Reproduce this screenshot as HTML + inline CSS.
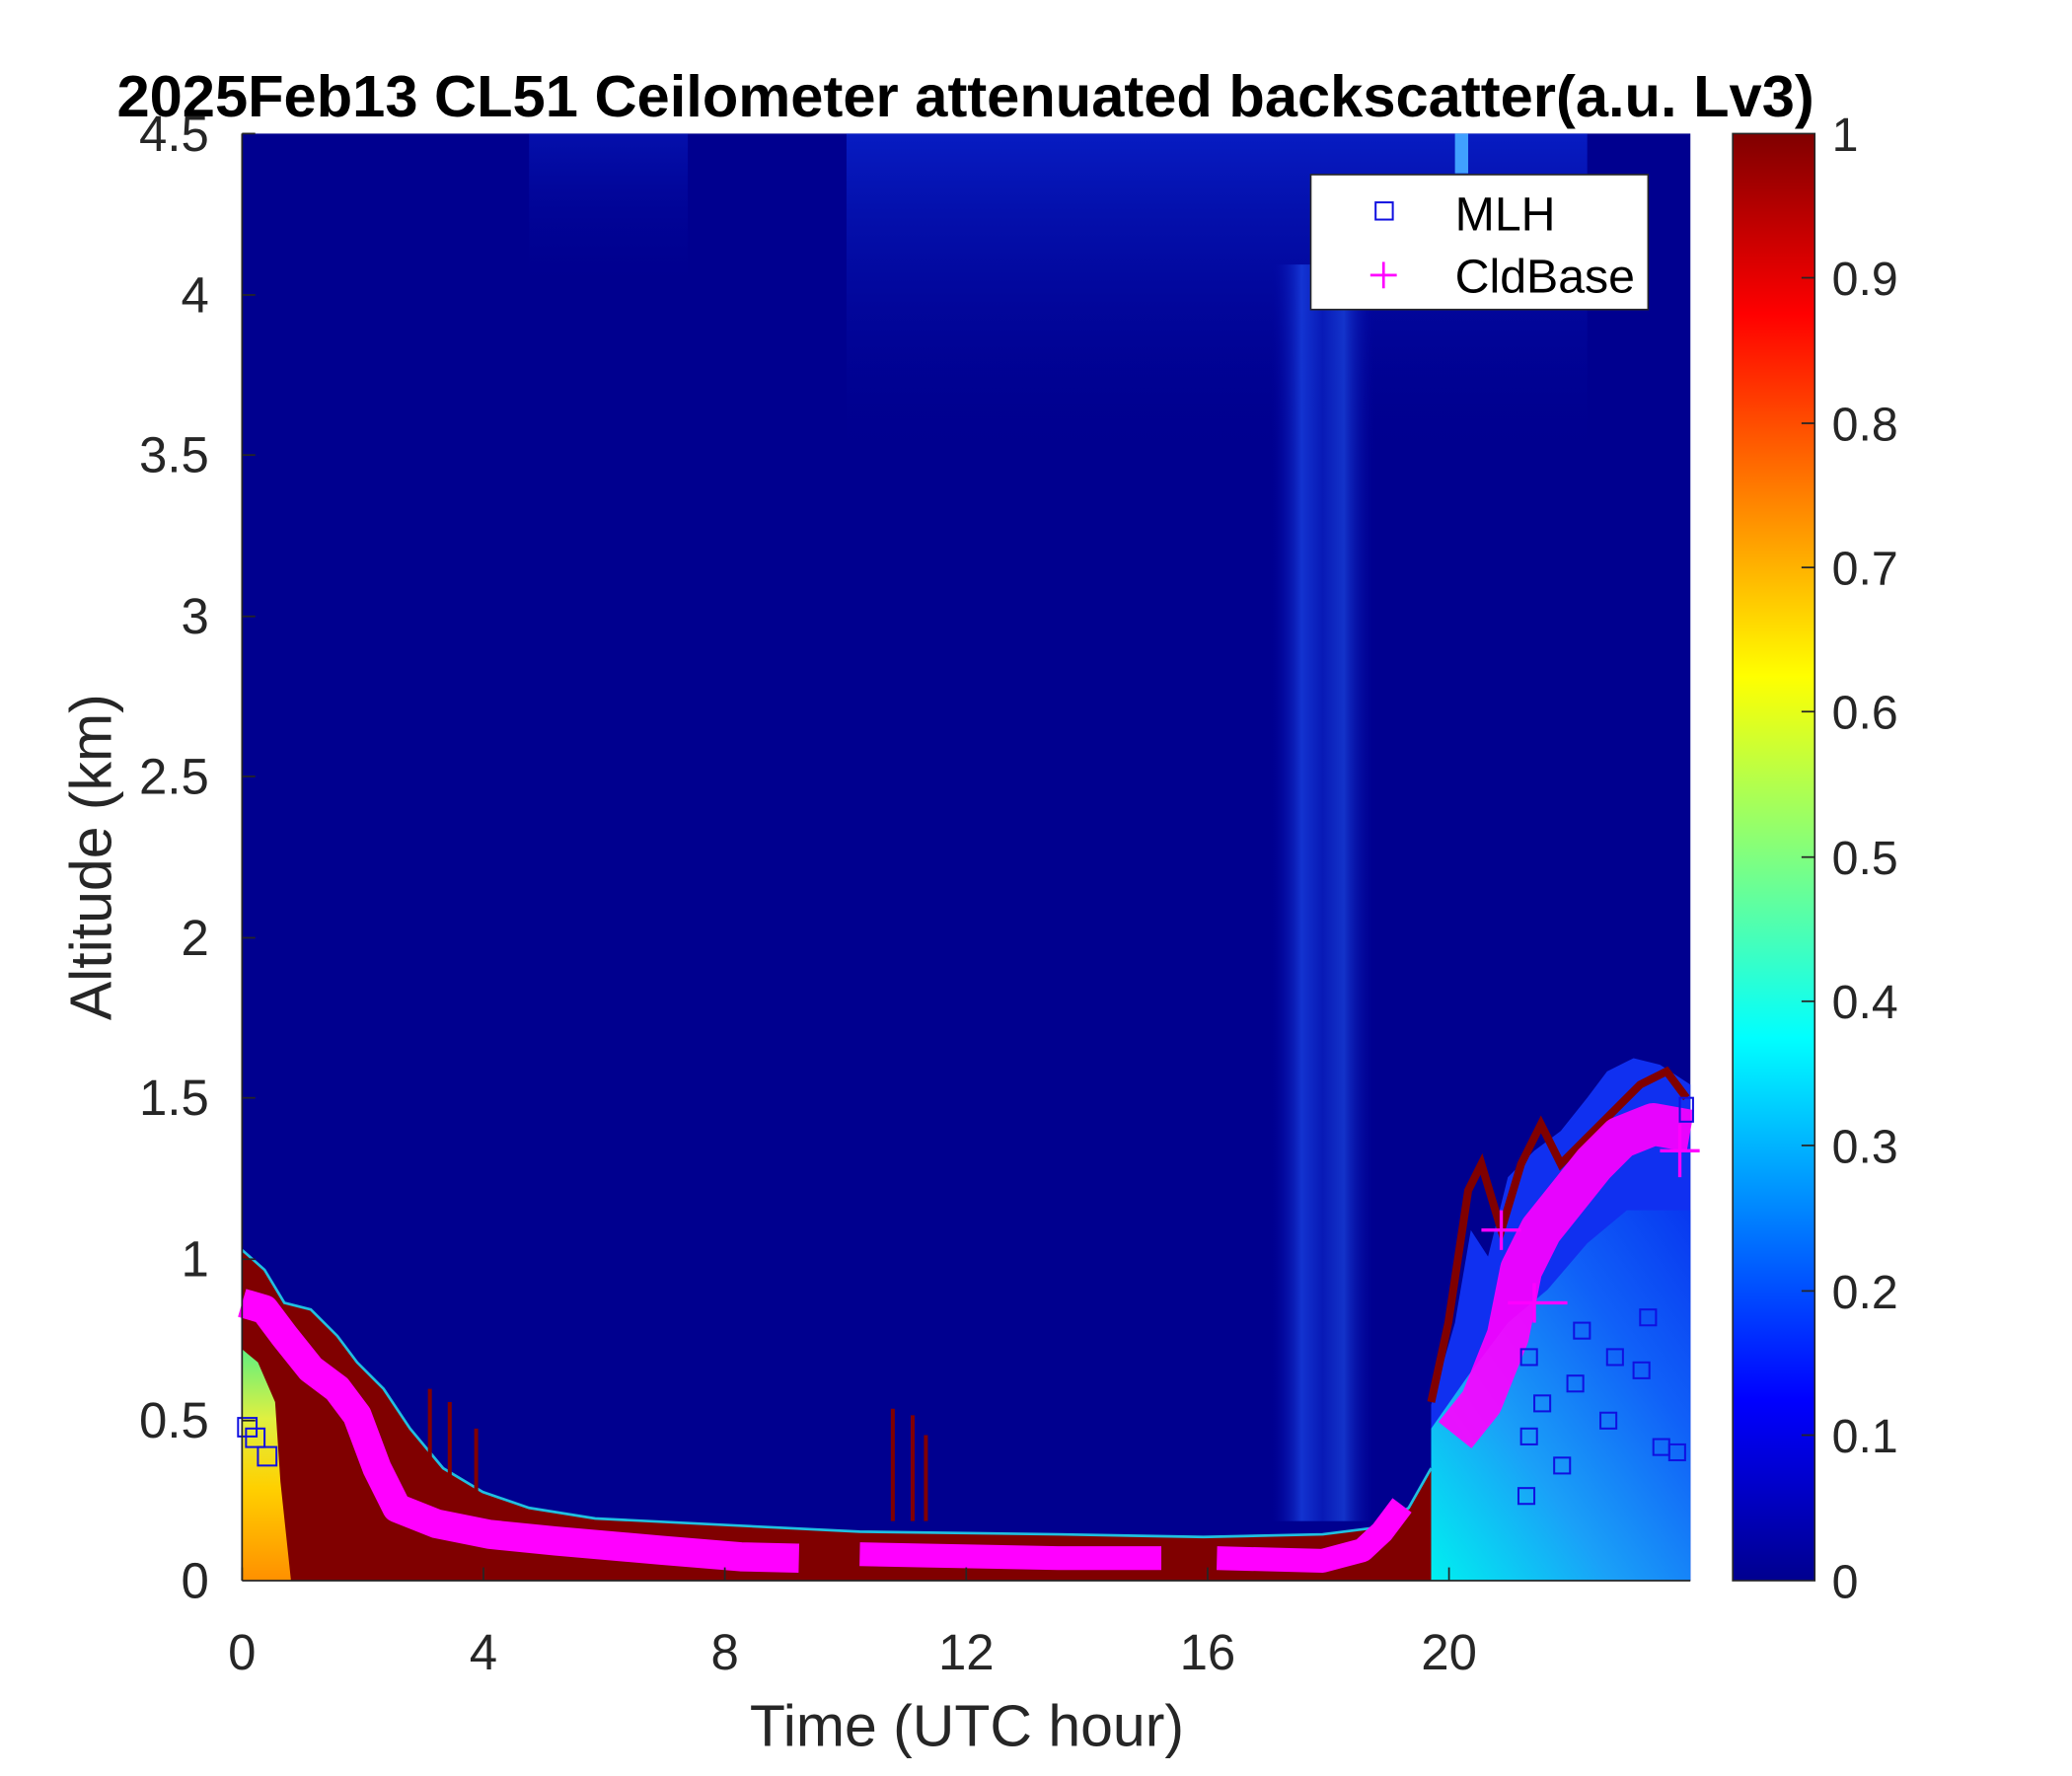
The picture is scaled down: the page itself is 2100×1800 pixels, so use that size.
<!DOCTYPE html>
<html><head><style>html,body{margin:0;padding:0;background:#fff}svg{display:block}</style></head>
<body>
<svg width="2100" height="1800" viewBox="0 0 1566.5 1342.7" xmlns="http://www.w3.org/2000/svg" font-family="Liberation Sans, sans-serif">
<defs>
<linearGradient id="jet" x1="0" y1="1" x2="0" y2="0">
<stop offset="0" stop-color="#00008f"/><stop offset="0.125" stop-color="#0000ff"/>
<stop offset="0.375" stop-color="#00ffff"/><stop offset="0.625" stop-color="#ffff00"/>
<stop offset="0.875" stop-color="#ff0000"/><stop offset="1" stop-color="#800000"/>
</linearGradient>
<linearGradient id="rgt" x1="0" y1="1" x2="1" y2="0">
<stop offset="0" stop-color="#00f0f0"/><stop offset="0.35" stop-color="#1aa0f8"/><stop offset="0.7" stop-color="#1060f8"/><stop offset="1" stop-color="#0838f0"/>
</linearGradient>
<linearGradient id="org" x1="0" y1="0" x2="0" y2="1">
<stop offset="0" stop-color="#60f080"/><stop offset="0.3" stop-color="#e0f040"/><stop offset="0.6" stop-color="#ffd000"/><stop offset="1" stop-color="#ff9000"/>
</linearGradient>
<linearGradient id="plume" x1="0" y1="0" x2="1" y2="0">
<stop offset="0" stop-color="#0000a0" stop-opacity="0"/><stop offset="0.3" stop-color="#1840e0"/><stop offset="0.5" stop-color="#0a20c0"/><stop offset="0.7" stop-color="#1840d8"/><stop offset="1" stop-color="#0000a0" stop-opacity="0"/>
</linearGradient>
<linearGradient id="topfade" x1="0" y1="0" x2="0" y2="1">
<stop offset="0" stop-color="#0a28d8"/><stop offset="1" stop-color="#00008f" stop-opacity="0"/>
</linearGradient>
</defs>
<text x="730" y="88" font-size="44.5" font-weight="bold" text-anchor="middle">2025Feb13 CL51 Ceilometer attenuated backscatter(a.u. Lv3)</text>
<rect x="183" y="101" width="1095" height="1094" fill="#00008f"/>
<rect x="640" y="101" width="560" height="250" fill="url(#topfade)" opacity="0.7"/>
<rect x="400" y="101" width="120" height="120" fill="url(#topfade)" opacity="0.4"/>
<rect x="960" y="200" width="80" height="950" fill="url(#plume)" opacity="0.8"/>
<rect x="1100" y="101" width="10" height="30" fill="#40a0ff"/>
<polygon points="1082,1195 1082,1062 1100,1000 1112,930 1125,950 1140,890 1160,870 1180,855 1200,830 1215,810 1235,800 1255,805 1278,820 1278,1195" fill="#1030f0"/>
<polygon points="1082,1195 1082,1080 1110,1040 1140,1000 1170,975 1200,940 1230,915 1278,915 1278,1195" fill="url(#rgt)"/>
<polyline points="1082,1060 1095,1000 1110,900 1120,880 1135,930 1150,880 1165,850 1180,880 1200,860 1220,840 1240,820 1260,810 1275,830" fill="none" stroke="#800000" stroke-width="6"/>
<polygon points="183,1195 183,945 200,960 215,985 235,990 255,1010 270,1030 290,1050 310,1080 335,1110 365,1128 400,1140 450,1148 550,1153 650,1158 800,1160 910,1162 1000,1160 1040,1155 1065,1140 1082,1110 1082,1195" fill="#800000"/>
<polyline points="183,945 200,960 215,985 235,990 255,1010 270,1030 290,1050 310,1080 335,1110 365,1128 400,1140 450,1148 550,1153 650,1158 800,1160 910,1162 1000,1160 1040,1155 1065,1140 1082,1110" fill="none" stroke="#20c0e0" stroke-width="2"/>
<g stroke="#800000" stroke-width="3">
<line x1="675" y1="1150" x2="675" y2="1065"/><line x1="690" y1="1150" x2="690" y2="1070"/><line x1="700" y1="1150" x2="700" y2="1085"/>
<line x1="325" y1="1120" x2="325" y2="1050"/><line x1="340" y1="1125" x2="340" y2="1060"/><line x1="360" y1="1130" x2="360" y2="1080"/>
</g>
<polygon points="183,1195 183,1020 195,1030 208,1060 212,1120 220,1195" fill="url(#org)"/>
<g fill="none" stroke="#ff00ff" stroke-linejoin="round" stroke-linecap="butt">
<polyline points="183,985 200,990 215,1010 235,1035 255,1050 270,1070 285,1110 300,1140 330,1152 370,1160 420,1165 500,1172 560,1177 604,1178" stroke-width="22"/>
<polyline points="650,1175 700,1176 800,1178 878,1178" stroke-width="18"/>
<polyline points="920,1178 1000,1180 1030,1172 1045,1158 1060,1138" stroke-width="18"/>
<polyline points="1100,1085 1120,1060 1140,1010 1150,960 1165,930 1185,905 1205,880 1225,860 1250,850 1278,855" stroke-width="32" opacity="0.9"/>
</g>
<g stroke="#ff00ff" stroke-width="2.5">
<line x1="1120" y1="930" x2="1150" y2="930"/><line x1="1135" y1="915" x2="1135" y2="945"/>
<line x1="1140" y1="985" x2="1185" y2="985"/><line x1="1160" y1="970" x2="1160" y2="1000"/>
<line x1="1255" y1="870" x2="1285" y2="870"/><line x1="1270" y1="850" x2="1270" y2="890"/>
</g>
<g fill="none" stroke="#1010e0" stroke-width="1.5">
<rect x="180" y="1072" width="14" height="14"/><rect x="186" y="1080" width="14" height="14"/><rect x="195" y="1094" width="14" height="14"/>
<rect x="1150" y="1080" width="12" height="12"/><rect x="1148" y="1125" width="12" height="12"/><rect x="1175" y="1102" width="12" height="12"/>
<rect x="1160" y="1055" width="12" height="12"/><rect x="1150" y="1020" width="12" height="12"/><rect x="1185" y="1040" width="12" height="12"/>
<rect x="1210" y="1068" width="12" height="12"/><rect x="1215" y="1020" width="12" height="12"/><rect x="1235" y="1030" width="12" height="12"/>
<rect x="1190" y="1000" width="12" height="12"/><rect x="1240" y="990" width="12" height="12"/>
<rect x="1250" y="1088" width="12" height="12"/><rect x="1262" y="1092" width="12" height="12"/><rect x="1270" y="830" width="10" height="18"/>
</g>
<g stroke="#262626" stroke-width="1.3" fill="none">
<line x1="183" y1="101" x2="183" y2="1195"/><line x1="183" y1="1195" x2="1278" y2="1195"/>
<line x1="183" y1="101" x2="193" y2="101"/><line x1="183" y1="223" x2="193" y2="223"/><line x1="183" y1="344" x2="193" y2="344"/>
<line x1="183" y1="466" x2="193" y2="466"/><line x1="183" y1="587" x2="193" y2="587"/><line x1="183" y1="709" x2="193" y2="709"/>
<line x1="183" y1="830" x2="193" y2="830"/><line x1="183" y1="952" x2="193" y2="952"/><line x1="183" y1="1074" x2="193" y2="1074"/>
<line x1="365.5" y1="1195" x2="365.5" y2="1185"/><line x1="548" y1="1195" x2="548" y2="1185"/><line x1="730.5" y1="1195" x2="730.5" y2="1185"/>
<line x1="913" y1="1195" x2="913" y2="1185"/><line x1="1095.5" y1="1195" x2="1095.5" y2="1185"/><line x1="183" y1="1195" x2="183" y2="1185"/>
</g>
<g font-size="38" fill="#262626" text-anchor="end">
<text x="158" y="114">4.5</text><text x="158" y="236">4</text><text x="158" y="357">3.5</text><text x="158" y="479">3</text>
<text x="158" y="600">2.5</text><text x="158" y="722">2</text><text x="158" y="843">1.5</text><text x="158" y="965">1</text>
<text x="158" y="1087">0.5</text><text x="158" y="1208">0</text>
</g>
<g font-size="38" fill="#262626" text-anchor="middle">
<text x="183" y="1262">0</text><text x="365.5" y="1262">4</text><text x="548" y="1262">8</text><text x="730.5" y="1262">12</text>
<text x="913" y="1262">16</text><text x="1095.5" y="1262">20</text>
</g>
<text x="731" y="1320" font-size="44" fill="#262626" text-anchor="middle">Time (UTC hour)</text>
<text transform="translate(84,648) rotate(-90)" font-size="44" fill="#262626" text-anchor="middle">Altitude (km)</text>
<rect x="991" y="132" width="255" height="102" fill="#fff" stroke="#262626" stroke-width="1.2"/>
<rect x="1040" y="153" width="13" height="13" fill="none" stroke="#1010e0" stroke-width="1.5"/>
<text x="1100" y="174" font-size="36" fill="#000">MLH</text>
<line x1="1036" y1="208" x2="1056" y2="208" stroke="#ff00ff" stroke-width="2"/><line x1="1046" y1="198" x2="1046" y2="218" stroke="#ff00ff" stroke-width="2"/>
<text x="1100" y="221" font-size="36" fill="#000">CldBase</text>
<rect x="1310" y="101" width="62" height="1094" fill="url(#jet)" stroke="#262626" stroke-width="1.2"/>
<g stroke="#262626" stroke-width="1.3">
<line x1="1362" y1="210" x2="1372" y2="210"/><line x1="1362" y1="320" x2="1372" y2="320"/><line x1="1362" y1="429" x2="1372" y2="429"/>
<line x1="1362" y1="538" x2="1372" y2="538"/><line x1="1362" y1="648" x2="1372" y2="648"/><line x1="1362" y1="757" x2="1372" y2="757"/>
<line x1="1362" y1="866" x2="1372" y2="866"/><line x1="1362" y1="976" x2="1372" y2="976"/><line x1="1362" y1="1085" x2="1372" y2="1085"/>
</g>
<g font-size="36" fill="#262626">
<text x="1385" y="114">1</text><text x="1385" y="223">0.9</text><text x="1385" y="333">0.8</text><text x="1385" y="442">0.7</text>
<text x="1385" y="551">0.6</text><text x="1385" y="661">0.5</text><text x="1385" y="770">0.4</text><text x="1385" y="879">0.3</text>
<text x="1385" y="989">0.2</text><text x="1385" y="1098">0.1</text><text x="1385" y="1208">0</text>
</g>
</svg>
</body></html>
